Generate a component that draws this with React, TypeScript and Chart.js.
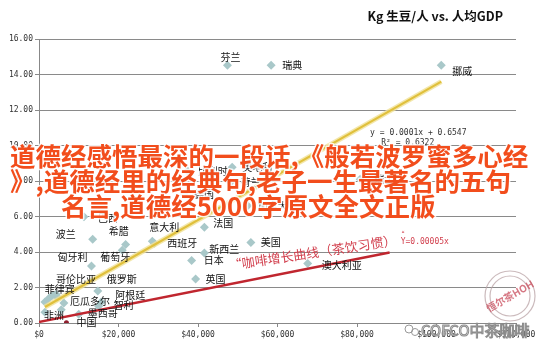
import React, { useEffect, useRef } from "react";
import { Chart, registerables } from "chart.js";
Chart.register(...registerables);

// ---- data ----
const countries = ["芬兰","瑞典","挪威","瑞士","比利时","奥地利","荷兰","德国","加拿大","巴西","波兰","希腊","葡萄牙","意大利","西班牙","法国","美国","新西兰","日本","英国","匈牙利","俄罗斯","哥伦比亚","菲律宾","厄瓜多尔","阿根廷","智利","墨西哥","非洲","澳大利亚"];
const gdpPerCapita = [47400,58400,101200,80800,37400,48600,48200,36500,52500,11300,13500,21800,20950,28500,29000,41600,53300,41600,38400,39400,13200,14800,4300,2460,6260,15650,15000,10000,1500,67600];
const kgPerCapita = [14.52,14.52,14.52,8.1,8.56,8.78,7.92,7.26,6.6,5.98,4.72,4.42,4.1,4.6,4.5,5.4,4.53,3.95,3.52,2.48,3.21,1.8,1.62,1.38,1.13,1.18,0.95,0.5,0.6,3.35];
const otherGdp = [3400, 1500, 4600, 5600];
const otherKg = [1.56, 1.18, 1.45, 0.75];
const chinaName = "中国";
const chinaGdp = [6900];
const chinaKg = [0.02];
const yellowTrendX = [1500, 101200];
const yellowTrendY = [0.9, 13.6];
const redTrendX = [0, 88200];
const redTrendY = [0.06, 3.97];
const xTicks = [0, 20000, 40000, 60000, 80000, 100000, 120000];
const yTicks = [0, 2, 4, 6, 8, 10, 12, 14, 16];

const titleText = "Kg 生豆/人 vs. 人均GDP";
const eqText = "y = 0.0001x + 0.6547";
const r2Text = "R² = 0.6322";
const curveText = "“咖啡增长曲线（茶饮习惯）";
const curveEq = "Y=0.00005x";
const overlayLines = [
  "道德经感悟最深的一段话,《般若波罗蜜多心经",
  "》,道德经里的经典句,老子一生最著名的五句",
  "名言,道德经5000字原文全文正版",
];
const watermark = "COFCO中茶咖啡";
const stampText = "恒尔茶HOH";

// label offsets (pixels, left-aligned text relative to point)
const labelOffsets: [number, number][] = [
  [-7,-8],[11,0],[11,6],[14,0],[10,0],[10,0],[10,0],[10,0],[10,0],[14,1],
  [-37,-5],[-17,-13],[-22,7],[-3,-14],[13,0],[9,-4],[10,0],[5,-4],[12,0],[10,0],
  [-34,-9],[9,-12],[0,-15],[-4,-9],[6,-2],[14,-7],[15,-1],[9,-1],[-1,3],[14,2],
];

const CJK = '"Noto Sans CJK SC", sans-serif';
const MONO = '"DejaVu Sans Mono", monospace';

const textPlugin = {
  id: "texts",
  afterDatasetsDraw(chart: any) {
    const ctx = chart.ctx as CanvasRenderingContext2D;
    const xs = chart.scales.x, ys = chart.scales.y;
    ctx.save();
    ctx.font = `10px ${CJK}`;
    ctx.fillStyle = "#111";
    ctx.textAlign = "left";
    ctx.textBaseline = "middle";
    const meta = chart.getDatasetMeta(0);
    meta.data.forEach((el: any, i: number) => {
      const [dx, dy] = labelOffsets[i];
      ctx.fillText(countries[i], el.x + dx, el.y + dy);
    });
    const cm = chart.getDatasetMeta(2);
    cm.data.forEach((el: any) => ctx.fillText(chinaName, el.x + 10, el.y));

    // trendline equations
    ctx.font = `8px ${MONO}`;
    ctx.fillStyle = "#333";
    ctx.fillText(eqText, xs.getPixelForValue(83300), ys.getPixelForValue(10.72));
    ctx.fillText(r2Text, xs.getPixelForValue(86100), ys.getPixelForValue(10.13));

    // red hand annotation
    ctx.save();
    ctx.translate(xs.getPixelForValue(47800), ys.getPixelForValue(3.25));
    ctx.rotate(-0.15);
    ctx.font = `13px ${CJK}`;
    ctx.fillStyle = "#d2404e";
    ctx.fillText(curveText, 0, 0);
    ctx.restore();
    ctx.font = `8px ${MONO}`;
    ctx.fillStyle = "#d2404e";
    ctx.fillText(curveEq, xs.getPixelForValue(91000), ys.getPixelForValue(4.55));
    ctx.font = `7px ${CJK}`;
    ctx.fillText("“", xs.getPixelForValue(90200), ys.getPixelForValue(5.0));
    ctx.restore();
  },
  afterDraw(chart: any) {
    const ctx = chart.ctx as CanvasRenderingContext2D;
    ctx.save();
    // title
    ctx.font = `bold 12.5px ${CJK}`;
    ctx.fillStyle = "#111";
    ctx.textAlign = "right";
    ctx.textBaseline = "middle";
    ctx.fillText(titleText, 503, 16);

    // stamp
    ctx.save();
    ctx.globalAlpha = 0.75;
    ctx.strokeStyle = "#b9a3a6";
    ctx.lineWidth = 1.2;
    ctx.beginPath();
    ctx.arc(510, 296, 25, 0, Math.PI * 2);
    ctx.stroke();
    ctx.beginPath();
    ctx.arc(510, 296, 20, 0, Math.PI * 2);
    ctx.stroke();
    ctx.translate(510, 296);
    ctx.rotate(-0.52);
    ctx.fillStyle = "#c84a5a";
    ctx.font = `bold 10px ${CJK}`;
    ctx.textAlign = "center";
    ctx.fillText(stampText, 0, 0);
    ctx.restore();

    // watermark
    ctx.save();
    ctx.strokeStyle = "#999";
    ctx.lineWidth = 1;
    ctx.beginPath();
    ctx.arc(409, 329, 4, 0, Math.PI * 2);
    ctx.stroke();
    ctx.beginPath();
    ctx.arc(415, 332, 3.5, 0, Math.PI * 2);
    ctx.stroke();
    ctx.font = `15px ${CJK}`;
    ctx.textAlign = "left";
    ctx.textBaseline = "middle";
    ctx.lineWidth = 1;
    ctx.strokeStyle = "#8c8c8c";
    ctx.fillStyle = "rgba(245,245,245,0.9)";
    ctx.fillText(watermark, 421, 330);
    ctx.strokeText(watermark, 421, 330);
    ctx.restore();

    // overlay headline
    ctx.font = `bold 25.5px ${CJK}`;
    ctx.textAlign = "left";
    ctx.textBaseline = "middle";
    ctx.lineJoin = "round";
    const pos: [number, number][] = [[10, 156], [10, 181], [61, 206]];
    overlayLines.forEach((t, i) => {
      ctx.lineWidth = 3;
      ctx.strokeStyle = "rgba(255,255,255,0.85)";
      ctx.strokeText(t, pos[i][0], pos[i][1]);
      ctx.fillStyle = "#f24d1c";
      ctx.fillText(t, pos[i][0], pos[i][1]);
    });
    ctx.restore();
  },
};

export default function App() {
  const ref = useRef<HTMLCanvasElement>(null);
  useEffect(() => {
    const diamond = {
      pointStyle: "rectRot" as const,
      pointRadius: 4.5,
      backgroundColor: "#a9c8c9",
      borderColor: "#a9c8c9",
      borderWidth: 0,
    };
    const chart = new Chart(ref.current!, {
      type: "scatter",
      data: {
        datasets: [
          { ...diamond, data: countries.map((_, i) => ({ x: gdpPerCapita[i], y: kgPerCapita[i] })), order: 3 },
          { ...diamond, data: otherGdp.map((g, i) => ({ x: g, y: otherKg[i] })), order: 3 },
          { data: chinaGdp.map((g, i) => ({ x: g, y: chinaKg[i] })), pointStyle: "circle", pointRadius: 2.5, backgroundColor: "#8e1c2c", borderWidth: 0, order: 0 },
          { data: yellowTrendX.map((x, i) => ({ x, y: yellowTrendY[i] })), showLine: true, pointRadius: 0, borderColor: "rgba(240,225,150,0.8)", borderWidth: 5, order: 2 },
          { data: yellowTrendX.map((x, i) => ({ x, y: yellowTrendY[i] })), showLine: true, pointRadius: 0, borderColor: "#e0c03c", borderWidth: 2.2, order: 1 },
          { data: redTrendX.map((x, i) => ({ x, y: redTrendY[i] })), showLine: true, pointRadius: 0, borderColor: "#c0262f", borderWidth: 2.5, order: 1 },
        ],
      },
      options: {
        animation: false,
        responsive: true,
        maintainAspectRatio: false,
        layout: { padding: { left: 0, right: 29, top: 39, bottom: 0 } },
        plugins: { legend: { display: false }, tooltip: { enabled: false }, title: { display: false } },
        events: [],
        scales: {
          x: {
            type: "linear",
            min: xTicks[0],
            max: xTicks[xTicks.length - 1],
            afterFit(s: any) { s.height = 32; },
            afterBuildTicks(s: any) { s.ticks = xTicks.map((v) => ({ value: v })); },
            ticks: {
              autoSkip: false,
              maxRotation: 0,
              padding: 3,
              color: "#333",
              font: { family: "DejaVu Sans Mono", size: 8 },
              callback: (v: any) => "$" + Number(v).toLocaleString("en-US"),
            },
            grid: { drawOnChartArea: false, drawTicks: true, tickLength: 4, color: "#888" },
            border: { color: "#888" },
          },
          y: {
            min: yTicks[0],
            max: yTicks[yTicks.length - 1],
            afterFit(s: any) { s.width = 39; },
            afterBuildTicks(s: any) { s.ticks = yTicks.map((v) => ({ value: v })); },
            ticks: {
              padding: 2,
              color: "#333",
              font: { family: "DejaVu Sans Mono", size: 8 },
              callback: (v: any) => Number(v).toFixed(2),
            },
            grid: { color: "#8a8a8a", tickLength: 4 },
            border: { color: "#888" },
          },
        },
      },
      plugins: [textPlugin],
    } as any);
    return () => chart.destroy();
  }, []);
  return (
    <div style={{ position: "fixed", left: 0, top: 0, width: 545, height: 355, background: "#fff" }}>
      <canvas ref={ref} />
    </div>
  );
}
